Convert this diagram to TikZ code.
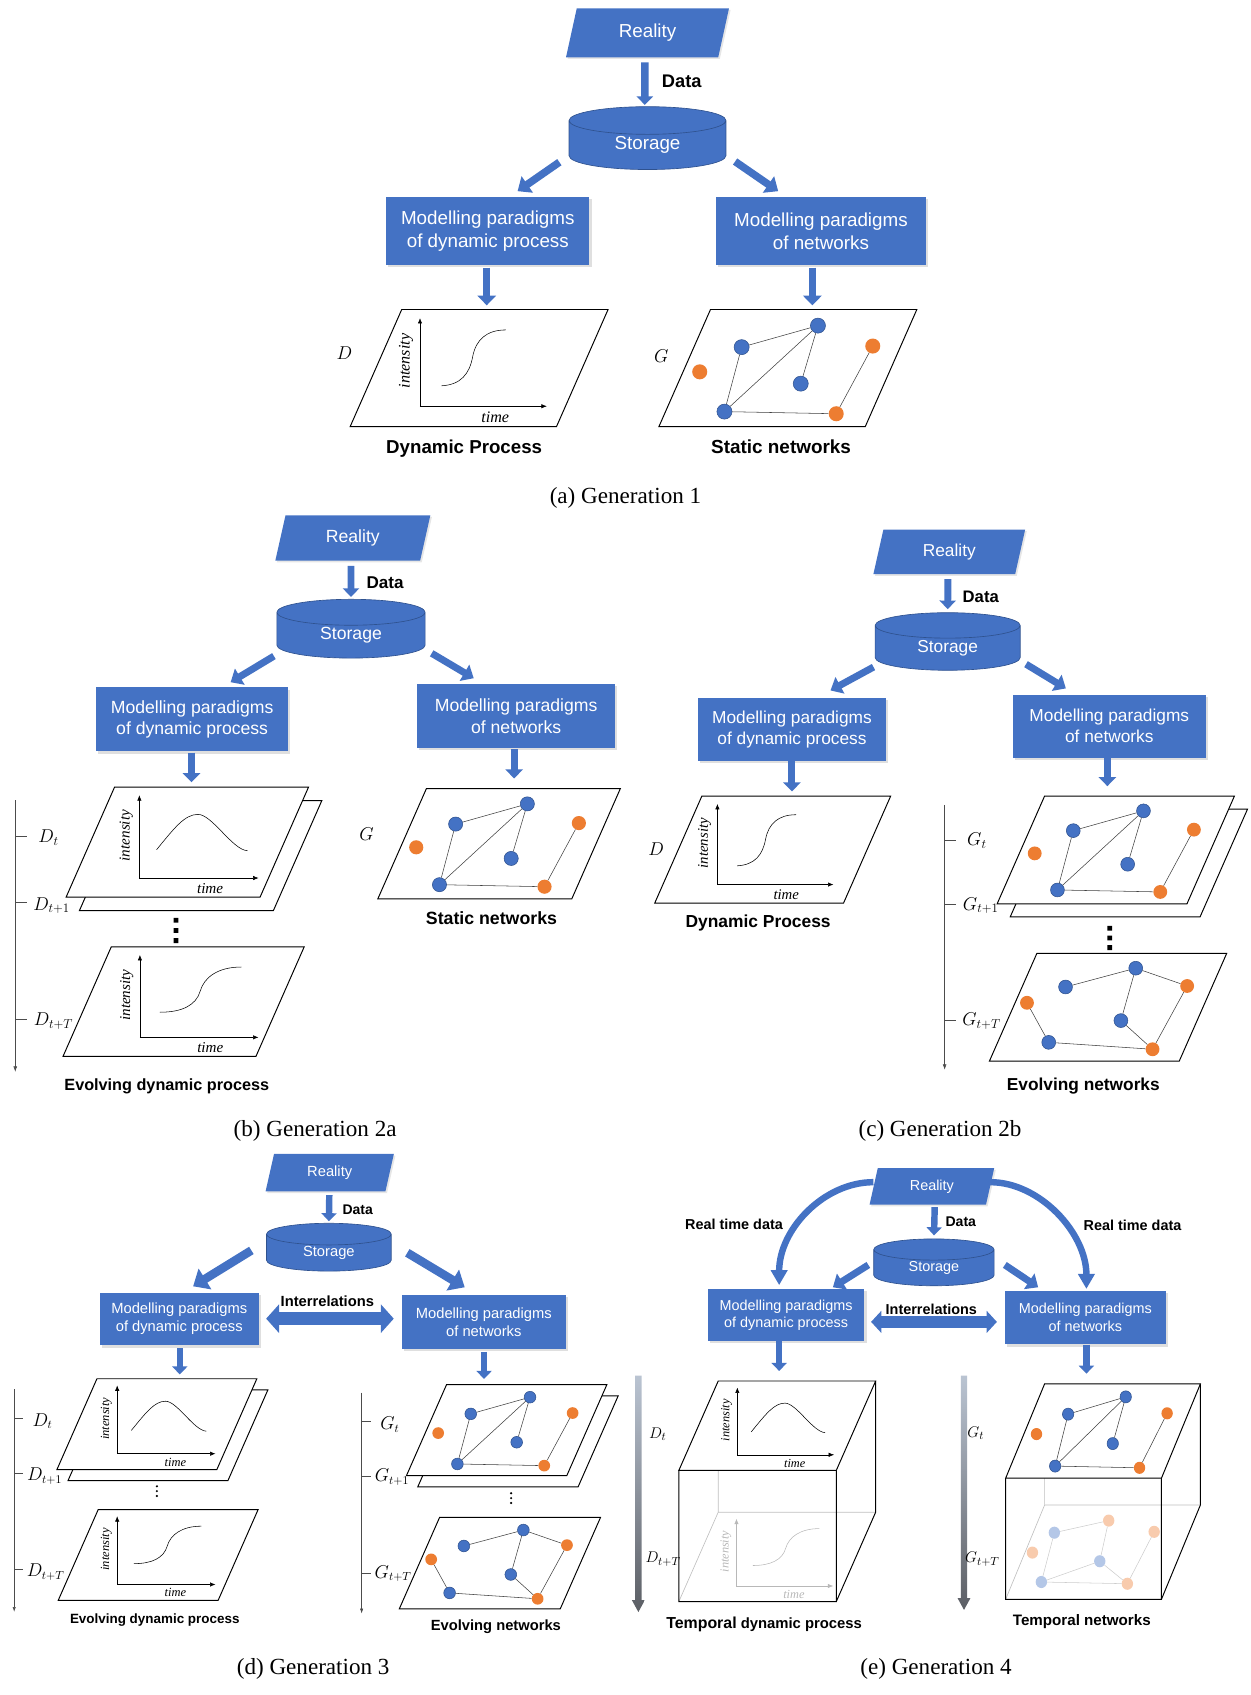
\documentclass[tikz,border=0pt]{standalone}
\usepackage{fontspec}
\setmainfont{Liberation Serif}
\setsansfont{Liberation Sans}
\renewcommand{\familydefault}{\sfdefault}
\usepackage{amssymb,amsmath}
\usetikzlibrary{shapes.geometric,arrows.meta,shadows}

\definecolor{boxblue}{HTML}{4472C4}
\definecolor{edgeblue}{HTML}{2F528F}
\definecolor{netorange}{HTML}{ED7D31}
\definecolor{fadeblue}{HTML}{B4C7E7}
\definecolor{fadeorange}{HTML}{F8CBAD}
\definecolor{axistop}{HTML}{BAC4D2}
\definecolor{axisbottom}{HTML}{5B5E64}

\newcommand{\setfs}[2]{\fontsize{#1}{#2}\selectfont}

% curves drawn on the intensity/time planes
\newcommand{\bellpath}{(39,62) .. controls (57,40) and (67,27) .. (80,27) .. controls (94,27) and (114,62) .. (129,63)}
\newcommand{\sigApath}{(42,71) .. controls (60,70) and (68,60) .. (71,44) .. controls (74,28) and (84,19) .. (102,19)}
\newcommand{\sigBpath}{(42,65) .. controls (64,65) and (78,58) .. (82,44) .. controls (86,30) and (100,20) .. (123,20)}

% a data plane, #1 = top left corner
\newcommand{\dataplane}[3]{%
  \draw[PlaneStyle, shift={#1}, xscale=#2, yscale=#3]
    (0,0) -- (192,0) -- (144,109) -- (-48,109) -- cycle;}

% intensity over time
\newcommand{\procplot}[5]{%
  \begin{scope}[shift={#2}, scale=#3, transform shape, color=#5]
    \draw[AxisStyle] (22,90) -- (22,8);
    \draw[AxisStyle] (22,90) -- (140,90);
    \draw[CurveStyle] #4;
    \node[AxisLabelStyle, rotate=90] (#1-int) at (9,48) {intensity};
    \node[AxisLabelStyle] (#1-time) at (92,100) {time};
  \end{scope}}

% network snapshot at time t
\newcommand{\netfirst}[4]{%
  \begin{scope}[shift={#2}, xscale=#3, yscale=#4, transform shape]
    \node[BlueVertex]   (#1-b1) at (29,35) {};
    \node[BlueVertex]   (#1-b2) at (100,15) {};
    \node[BlueVertex]   (#1-b3) at (84,69) {};
    \node[BlueVertex]   (#1-b4) at (13,95) {};
    \node[OrangeVertex] (#1-o1) at (-10,58) {};
    \node[OrangeVertex] (#1-o2) at (151,34) {};
    \node[OrangeVertex] (#1-o3) at (117,97) {};
    \draw[EdgeStyle] (#1-b1) -- (#1-b2) -- (#1-b4) -- (#1-b1)
      (#1-b2) -- (#1-b3) (#1-b4) -- (#1-o3) -- (#1-o2);
  \end{scope}}

% network snapshot at time t+T
\newcommand{\netlast}[4]{%
  \begin{scope}[shift={#2}, xscale=#3, yscale=#4, transform shape]
    \node[BlueVertex]   (#1-b1) at (29,34) {};
    \node[BlueVertex]   (#1-b2) at (100,15) {};
    \node[BlueVertex]   (#1-b3) at (85,68) {};
    \node[BlueVertex]   (#1-b4) at (12,90) {};
    \node[OrangeVertex] (#1-o1) at (-10,50) {};
    \node[OrangeVertex] (#1-o2) at (152,33) {};
    \node[OrangeVertex] (#1-o3) at (117,97) {};
    \draw[EdgeStyle] (#1-b1) -- (#1-b2) -- (#1-o2) -- (#1-o3) -- (#1-b4) -- (#1-o1)
      (#1-b2) -- (#1-b3) -- (#1-o3);
  \end{scope}}

% faded snapshot at the bottom of a cube
\newcommand{\netfaded}[4]{%
  \begin{scope}[shift={#2}, xscale=#3, yscale=#4, transform shape]
    \node[FadedBlue]   (#1-b1) at (12,32) {};
    \node[FadedBlue]   (#1-b2) at (68,65) {};
    \node[FadedBlue]   (#1-b3) at (-4,89) {};
    \node[FadedOrange] (#1-o1) at (79,18) {};
    \node[FadedOrange] (#1-o2) at (135,31) {};
    \node[FadedOrange] (#1-o3) at (-15,55) {};
    \node[FadedOrange] (#1-o4) at (102,91) {};
    \draw[FadedEdge] (#1-b1) -- (#1-o1) -- (#1-b2) -- (#1-b3) -- (#1-b1)
      (#1-b2) -- (#1-o4) -- (#1-b3) (#1-o4) -- (#1-o2);
  \end{scope}}

% time cube, #4 = depth
\newcommand{\timecube}[4]{%
  \begin{scope}[shift={#1}, xscale=#2, yscale=#3]
    \draw[HiddenEdge] (0,0) -- (0,#4) -- (192,#4) (0,#4) -- (-48,{109+#4});
    \draw[CubeEdge] (-48,109) -- (-48,{109+#4}) -- (144,{109+#4}) -- (144,109)
      (192,0) -- (192,#4) -- (144,{109+#4});
    \draw[PlaneStyle] (0,0) -- (192,0) -- (144,109) -- (-48,109) -- cycle;
  \end{scope}}

\begin{document}
\begin{tikzpicture}[x=1pt,y=-1pt]
  \tikzset{RealityStyle/.style = {
    shape                 = trapezium,
    trapezium left angle  = 76,
    trapezium right angle = 104,
    trapezium stretches   = true,
    fill                  = boxblue,
    text                  = white,
    inner sep             = 0pt,
    drop shadow           = {opacity=0.2, shadow xshift=1.5pt, shadow yshift=-1.5pt}
    }
  }
  \tikzset{StorageStyle/.style = {
    shape               = cylinder,
    shape border rotate = 90,
    aspect              = 0.42,
    anchor              = shape center,
    fill                = boxblue,
    draw                = edgeblue,
    line width          = 0.6pt,
    text                = white,
    inner sep           = 0pt
    }
  }
  \tikzset{BoxStyle/.style = {
    shape       = rectangle,
    fill        = boxblue,
    text        = white,
    align       = center,
    inner sep   = 0pt,
    drop shadow = {opacity=0.25, shadow xshift=2pt, shadow yshift=-2pt}
    }
  }
  \tikzset{BlockArrow/.style n args = {3}{
    draw       = boxblue,
    line width = #1,
    -{Triangle[width=#2, length=#3]}
    }
  }
  \tikzset{BothArrow/.style n args = {3}{
    draw       = boxblue,
    line width = #1,
    {Triangle[width=#2, length=#3]}-{Triangle[width=#2, length=#3]}
    }
  }
  \tikzset{PlaneStyle/.style = {
    draw       = black,
    fill       = white,
    line width = 0.9pt
    }
  }
  \tikzset{CubeEdge/.style   = {draw = black,   line width = 0.9pt}}
  \tikzset{HiddenEdge/.style = {draw = black!25, line width = 0.6pt}}
  \tikzset{AxisStyle/.style = {
    line width = 0.5pt,
    -{Latex[length=5pt, width=4pt]}
    }
  }
  \tikzset{CurveStyle/.style     = {line width = 0.5pt}}
  \tikzset{AxisLabelStyle/.style = {inner sep = 0pt, font = \rmfamily\itshape\setfs{15}{15}}}
  \tikzset{TimeAxis/.style = {
    draw       = black!70,
    line width = 0.5pt
    }
  }
  \tikzset{BlueVertex/.style = {
    shape        = circle,
    fill         = boxblue,
    draw         = edgeblue,
    line width   = 0.5pt,
    inner sep    = 0pt,
    minimum size = 14pt
    }
  }
  \tikzset{OrangeVertex/.style = {
    shape        = circle,
    fill         = netorange,
    inner sep    = 0pt,
    minimum size = 14pt
    }
  }
  \tikzset{FadedBlue/.style   = {OrangeVertex, fill = fadeblue}}
  \tikzset{FadedOrange/.style = {OrangeVertex, fill = fadeorange}}
  \tikzset{EdgeStyle/.style   = {draw = black!75, line width = 0.5pt}}
  \tikzset{FadedEdge/.style   = {draw = black!20, line width = 0.5pt}}
  \tikzset{LabelStyle/.style  = {inner sep = 0pt, text = black}}
  \tikzset{CaptionStyle/.style = {inner sep = 0pt, font = \rmfamily\setfs{21.5}{24}}}

  \useasboundingbox (0,0) rectangle (1164,1577.2);

  % (a) Generation 1
  \node[RealityStyle, minimum width=152, minimum height=45.6, font=\setfs{17.5}{21}] (aR) at (602.5,30.5) {Reality};
  \node[StorageStyle, minimum width=146, minimum height=58.5, font=\setfs{17.5}{21}] (aS) at (602.5,128.5) {Storage};
  \node[BoxStyle, minimum width=189, minimum height=63, font=\setfs{17.5}{21.5}] (aL) at (453.9,214.9) {Modelling paradigms\\of dynamic process};
  \node[BoxStyle, minimum width=195.5, minimum height=63, font=\setfs{17.5}{21.5}] (aN) at (763.9,214.9) {Modelling paradigms\\of networks};
  \node[LabelStyle, font=\bfseries\setfs{17}{20}] (aData) at (634.4,75.5) {Data};
  \draw[BlockArrow={7pt}{15pt}{8pt}, shorten <=4.6pt, shorten >=1.3pt] ([shift={(-2.5,0)}]aR.south) -- ([shift={(-2.5,0)}]aS.north);
  \draw[BlockArrow={7pt}{18pt}{11pt}] ([shift={(-82,22.4)}]aS.shape center) -- ([shift={(27.7,-5.3)}]aL.north);
  \draw[BlockArrow={7pt}{18pt}{11pt}] ([shift={(81.5,21.8)}]aS.shape center) -- ([shift={(-39.8,-5.3)}]aN.north);
  \draw[BlockArrow={7pt}{17pt}{9pt}] ([shift={(-1,2.5)}]aL.south) -- ++(0,35);
  \draw[BlockArrow={7pt}{17pt}{9pt}] ([shift={(-8,2.5)}]aN.south) -- ++(0,35);
  \dataplane{(373.8,288)}{1}{1}
  \procplot{aP}{(368.8,288)}{1}{\sigApath}{black}
  \dataplane{(661.1,288)}{1}{1}
  \netfirst{aG}{(661.1,288)}{1}{1}
  \node[LabelStyle, font=\setfs{19}{19}] (aDl) at (320.4,329) {$D$};
  \node[LabelStyle, font=\setfs{19}{19}] (aGl) at (615.3,331.1) {$G$};
  \node[LabelStyle, font=\bfseries\setfs{17.4}{20}] (aPl) at (431.9,417.3) {Dynamic Process};
  \node[LabelStyle, font=\bfseries\setfs{17.6}{20}] (aNl) at (726.8,415.8) {Static networks};
  \node[CaptionStyle] (capA) at (582,463) {(a) Generation 1};

  % (b) Generation 2a
  \node[RealityStyle, minimum width=144.5, minimum height=42.3, font=\setfs{16.4}{20}] (bR) at (328.3,500.6) {Reality};
  \node[StorageStyle, minimum width=138, minimum height=54.7, font=\setfs{16.4}{20}] (bS) at (326.6,585) {Storage};
  \node[BoxStyle, minimum width=179, minimum height=59.6, font=\setfs{16.4}{20}] (bL) at (178.8,669.4) {Modelling paradigms\\of dynamic process};
  \node[BoxStyle, minimum width=184, minimum height=60, font=\setfs{16.4}{20}] (bN) at (480.3,666.2) {Modelling paradigms\\of networks};
  \node[LabelStyle, font=\bfseries\setfs{15.9}{19}] (bData) at (358.4,542.6) {Data};
  \draw[BlockArrow={6.5pt}{15pt}{8pt}, shorten >=1.9pt] ([shift={(-1.7,4.5)}]bR.south) -- (bS.north);
  \draw[BlockArrow={6.5pt}{17pt}{10pt}] ([shift={(-71.7,25.5)}]bS.shape center) -- ([shift={(35.8,-4.6)}]bL.north);
  \draw[BlockArrow={6.5pt}{17pt}{10pt}] ([shift={(75.1,22.9)}]bS.shape center) -- ([shift={(-39.5,-4.9)}]bN.north);
  \draw[BlockArrow={6.5pt}{16pt}{8.5pt}] ([shift={(-0.6,1)}]bL.south) -- ++(0,27.5);
  \draw[BlockArrow={6.5pt}{16pt}{8.5pt}] ([shift={(-1.9,1)}]bN.south) -- ++(0,27);
  \dataplane{(119,744.9)}{0.94}{0.94}
  \dataplane{(106.6,732.4)}{0.94}{0.94}
  \procplot{bP1}{(109,732.4)}{0.94}{\bellpath}{black}
  \dataplane{(103.5,881.1)}{0.935}{0.935}
  \procplot{bP2}{(109.6,881.1)}{0.935}{\sigBpath}{black}
  \dataplane{(396.7,733.9)}{0.94}{0.94}
  \netfirst{bG}{(396.7,733.9)}{0.94}{0.94}
  \draw[TimeAxis, -{Latex[length=5pt, width=3.5pt]}] (14.2,744.5) -- (14.2,997.3);
  \draw[TimeAxis] (14.2,777.7) -- ++(10.5,0) (14.2,840) -- ++(10.5,0) (14.2,948.3) -- ++(10.5,0);
  \fill (161.5,854) rectangle ++(4.5,4.5) (161.5,863.5) rectangle ++(4.5,4.5) (161.5,873) rectangle ++(4.5,4.5);
  \node[LabelStyle, font=\setfs{18}{18}] (bD1) at (45.2,779.6) {$D_t$};
  \node[LabelStyle, font=\setfs{18}{18}] (bD2) at (48,842.6) {$D_{t+1}$};
  \node[LabelStyle, font=\setfs{18}{18}] (bD3) at (49.8,950.2) {$D_{t+T}$};
  \node[LabelStyle, font=\setfs{18}{18}] (bGl) at (341.1,775.8) {$G$};
  \node[LabelStyle, font=\bfseries\setfs{15.1}{18}] (bPl) at (155.2,1010.6) {Evolving dynamic process};
  \node[LabelStyle, font=\bfseries\setfs{16.5}{19}] (bNl) at (457.3,853.9) {Static networks};
  \node[CaptionStyle] (capB) at (293.2,1052) {(b) Generation 2a};

  % (c) Generation 2b
  \node[RealityStyle, minimum width=141.6, minimum height=41.5, font=\setfs{16.1}{19}] (cR) at (883.3,513.5) {Reality};
  \node[StorageStyle, minimum width=135, minimum height=53.6, font=\setfs{16.1}{19}] (cS) at (881.8,596.9) {Storage};
  \node[BoxStyle, minimum width=174.8, minimum height=58.5, font=\setfs{16.1}{19.6}] (cL) at (736.9,678.7) {Modelling paradigms\\of dynamic process};
  \node[BoxStyle, minimum width=180, minimum height=58.5, font=\setfs{16.1}{19.6}] (cN) at (1032.2,675.7) {Modelling paradigms\\of networks};
  \node[LabelStyle, font=\bfseries\setfs{15.5}{19}] (cData) at (912.6,555) {Data};
  \draw[BlockArrow={6.5pt}{15pt}{8pt}, shorten >=3pt] ([shift={(-1.3,4.5)}]cR.south) -- (cS.north);
  \draw[BlockArrow={6.5pt}{17pt}{10pt}] ([shift={(-69,23.8)}]cS.shape center) -- ([shift={(35.9,-6.8)}]cL.north);
  \draw[BlockArrow={6.5pt}{17pt}{10pt}] ([shift={(72.9,21.1)}]cS.shape center) -- ([shift={(-40.4,-5.7)}]cN.north);
  \draw[BlockArrow={6.5pt}{16pt}{8.5pt}] (cL.south) -- ++(0,28.3);
  \draw[BlockArrow={6.5pt}{16pt}{8.5pt}] ([shift={(-1.8,0)}]cN.south) -- ++(0,26.4);
  \dataplane{(653.1,740.7)}{0.915}{0.915}
  \procplot{cP}{(647.4,740.7)}{0.915}{\sigApath}{black}
  \dataplane{(984.2,752.8)}{0.92}{0.92}
  \dataplane{(972,740.7)}{0.92}{0.92}
  \netfirst{cG1}{(972,740.7)}{0.92}{0.92}
  \dataplane{(964.8,887.1)}{0.92}{0.92}
  \netlast{cG2}{(964.8,887.1)}{0.92}{0.92}
  \draw[TimeAxis, -{Latex[length=5pt, width=3.5pt]}] (879,749) -- (879,995.4);
  \draw[TimeAxis] (879,782.2) -- ++(10.5,0) (879,841.8) -- ++(10.5,0) (879,949) -- ++(10.5,0);
  \fill (1030.3,861.5) rectangle ++(4.5,4.5) (1030.3,870.5) rectangle ++(4.5,4.5) (1030.3,879.5) rectangle ++(4.5,4.5);
  \node[LabelStyle, font=\setfs{18}{18}] (cDl) at (610.6,790.5) {$D$};
  \node[LabelStyle, font=\setfs{18}{18}] (cG1l) at (909,782.2) {$G_t$};
  \node[LabelStyle, font=\setfs{18}{18}] (cG2l) at (912.6,842.6) {$G_{t+1}$};
  \node[LabelStyle, font=\setfs{18}{18}] (cG3l) at (913.3,950.2) {$G_{t+T}$};
  \node[LabelStyle, font=\bfseries\setfs{16.2}{19}] (cPl) at (705.4,858.8) {Dynamic Process};
  \node[LabelStyle, font=\bfseries\setfs{16.1}{19}] (cNl) at (1008,1010.6) {Evolving networks};
  \node[CaptionStyle] (capC) at (874.7,1052) {(c) Generation 2b};

  % (d) Generation 3
  \node[RealityStyle, minimum width=119.6, minimum height=34.9, font=\setfs{13.7}{16}] (dR) at (306.8,1091.2) {Reality};
  \node[StorageStyle, minimum width=116, minimum height=44.5, font=\setfs{13.7}{16}] (dS) at (306,1160.5) {Storage};
  \node[BoxStyle, minimum width=147.7, minimum height=49, font=\setfs{13.7}{16.8}] (dL) at (166.8,1227.4) {Modelling paradigms\\of dynamic process};
  \node[BoxStyle, minimum width=152.4, minimum height=50, font=\setfs{13.7}{16.8}] (dN) at (450.2,1230) {Modelling paradigms\\of networks};
  \node[LabelStyle, font=\bfseries\setfs{13}{16}] (dData) at (332.8,1125.4) {Data};
  \node[LabelStyle, font=\bfseries\setfs{13.7}{16}] (dInter) at (304.6,1210.9) {Interrelations};
  \draw[BlockArrow={6pt}{14pt}{7.5pt}, shorten >=1.6pt] ([shift={(-0.4,3.2)}]dR.south) -- (dS.north);
  \draw[BlockArrow={8pt}{22pt}{13pt}] ([shift={(-72.1,3)}]dS.shape center) -- ([shift={(12.9,-5.8)}]dL.north);
  \draw[BlockArrow={8pt}{22pt}{13pt}] ([shift={(73,5.2)}]dS.shape center) -- ([shift={(-17.8,-7)}]dN.north);
  \draw[BothArrow={12pt}{26pt}{12pt}] ([shift={(6.8,-0.4)}]dL.east) -- ([shift={(-7.4,-3)}]dN.west);
  \draw[BlockArrow={6pt}{14pt}{7.5pt}] ([shift={(0.5,2.6)}]dL.south) -- ++(0,24.2);
  \draw[BlockArrow={6pt}{14pt}{7.5pt}] ([shift={(0.2,2.7)}]dN.south) -- ++(0,25.2);
  \dataplane{(100.5,1293.2)}{0.775}{0.775}
  \dataplane{(90.2,1282.9)}{0.775}{0.775}
  \procplot{dP1}{(92,1282.9)}{0.775}{\bellpath}{black}
  \dataplane{(91.4,1404.6)}{0.775}{0.775}
  \procplot{dP2}{(92,1404.6)}{0.775}{\sigBpath}{black}
  \dataplane{(426,1298.9)}{0.777}{0.777}
  \dataplane{(415.5,1288.4)}{0.777}{0.777}
  \netfirst{dG1}{(415.5,1288.4)}{0.777}{0.777}
  \dataplane{(409,1412)}{0.78}{0.78}
  \netlast{dG2}{(409,1412)}{0.78}{0.78}
  \draw[TimeAxis, -{Latex[length=4.5pt, width=3pt]}] (13.2,1292.6) -- (13.2,1499.8);
  \draw[TimeAxis] (13.2,1320) -- ++(8.5,0) (13.2,1370.7) -- ++(8.5,0) (13.2,1460.4) -- ++(8.5,0);
  \draw[TimeAxis, -{Latex[length=4.5pt, width=3pt]}] (336.5,1295.8) -- (336.5,1501.4);
  \draw[TimeAxis] (336.5,1322.9) -- ++(8.5,0) (336.5,1373.3) -- ++(8.5,0) (336.5,1464.3) -- ++(8.5,0);
  \fill (146,1383) circle (1.1) (146,1387.5) circle (1.1) (146,1392) circle (1.1);
  \fill (475.6,1389.5) circle (1.1) (475.6,1394) circle (1.1) (475.6,1398.5) circle (1.1);
  \node[LabelStyle, font=\setfs{16}{16}] (dD1) at (39.5,1322.3) {$D_t$};
  \node[LabelStyle, font=\setfs{16}{16}] (dD2) at (41.4,1373.3) {$D_{t+1}$};
  \node[LabelStyle, font=\setfs{16}{16}] (dD3) at (42.5,1462.7) {$D_{t+T}$};
  \node[LabelStyle, font=\setfs{16}{16}] (dG1l) at (362.8,1325.5) {$G_t$};
  \node[LabelStyle, font=\setfs{16}{16}] (dG2l) at (364.7,1374.6) {$G_{t+1}$};
  \node[LabelStyle, font=\setfs{16}{16}] (dG3l) at (365.8,1464.3) {$G_{t+T}$};
  \node[LabelStyle, font=\bfseries\setfs{12.5}{15}] (dPl) at (144,1507.9) {Evolving dynamic process};
  \node[LabelStyle, font=\bfseries\setfs{13.7}{16}] (dNl) at (461.4,1513.4) {Evolving networks};
  \node[CaptionStyle] (capD) at (291.4,1553) {(d) Generation 3};

  % (e) Generation 4
  \node[RealityStyle, minimum width=116.5, minimum height=34, font=\setfs{13.4}{16}] (eR) at (867.1,1104) {Reality};
  \node[StorageStyle, minimum width=112, minimum height=43.6, font=\setfs{13.4}{16}] (eS) at (869,1174.6) {Storage};
  \node[BoxStyle, minimum width=145.7, minimum height=48.4, font=\setfs{13.4}{16.4}] (eL) at (731.5,1223.8) {Modelling paradigms\\of dynamic process};
  \node[BoxStyle, minimum width=150.2, minimum height=50, font=\setfs{13.4}{16.4}] (eN) at (1009.9,1226) {Modelling paradigms\\of networks};
  \node[LabelStyle, font=\bfseries\setfs{13.1}{16}] (eData) at (894,1136.7) {Data};
  \node[LabelStyle, font=\bfseries\setfs{13.4}{16}] (eInter) at (866.6,1218) {Interrelations};
  \node[LabelStyle, font=\bfseries\setfs{13.4}{16}] (eRealL) at (683,1139) {Real time data};
  \node[LabelStyle, font=\bfseries\setfs{13.4}{16}] (eRealR) at (1053.8,1139.9) {Real time data};
  \draw[BlockArrow={6pt}{14pt}{7.5pt}, shorten <=2pt, shorten >=3pt] ([shift={(2.7,0)}]eR.south) -- (eS.north);
  \draw[BlockArrow={6.5pt}{17pt}{10pt}] ([shift={(-61,2.4)}]eS.shape center) -- ([shift={(43.5,-1.6)}]eL.north);
  \draw[BlockArrow={6.5pt}{17pt}{10pt}] ([shift={(66,2.4)}]eS.shape center) -- ([shift={(-43.9,-3)}]eN.north);
  \draw[BothArrow={10.5pt}{20pt}{9.5pt}] ([shift={(6,6.2)}]eL.east) -- ([shift={(-7,4)}]eN.west);
  \draw[BlockArrow={6pt}{15pt}{14pt}] ([shift={(0,-4)}]eR.west) .. controls +(-46,0) and +(0,-52) .. ([shift={(-6.5,-3.6)}]eL.north);
  \draw[BlockArrow={6pt}{15pt}{14pt}] ([shift={(0,-4)}]eR.east) .. controls +(46,0) and +(0,-52) .. ([shift={(1,-1.5)}]eN.north);
  \draw[BlockArrow={6pt}{14pt}{7.5pt}] ([shift={(-6.5,0)}]eL.south) -- ++(0,27.5);
  \draw[BlockArrow={6pt}{14pt}{7.5pt}] ([shift={(1,0)}]eN.south) -- ++(0,27);
  \shade[top color=axistop, bottom color=axisbottom]
    (591,1280) -- (597,1280) -- (597,1489) -- (600,1489) -- (594,1500) -- (588,1489) -- (591,1489) -- cycle;
  \shade[top color=axistop, bottom color=axisbottom]
    (894,1280) -- (900,1280) -- (900,1487) -- (903,1487) -- (897,1498) -- (891,1487) -- (894,1487) -- cycle;
  \timecube{(668.3,1285)}{0.763}{0.763}{160}
  \procplot{eP1}{(669.3,1285)}{0.763}{\bellpath}{black}
  \procplot{eP2}{(668.5,1407.1)}{0.763}{\sigBpath}{black!28}
  \timecube{(972,1287.7)}{0.755}{0.805}{140}
  \netfirst{eG1}{(972,1287.7)}{0.755}{0.805}
  \netfaded{eG2}{(972,1400.4)}{0.755}{0.805}
  \node[LabelStyle, font=\setfs{15}{15}] (eD1) at (612,1334.5) {$D_t$};
  \node[LabelStyle, font=\setfs{15}{15}] (eD2) at (617,1451) {$D_{t+T}$};
  \node[LabelStyle, font=\setfs{15}{15}] (eG1l) at (908,1333.6) {$G_t$};
  \node[LabelStyle, font=\setfs{15}{15}] (eG2l) at (914,1451) {$G_{t+T}$};
  \node[LabelStyle, font=\bfseries\setfs{13.8}{16}] (ePl) at (711,1511.7) {{\setfs{14.8}{16}Temporal} dynamic process};
  \node[LabelStyle, font=\bfseries\setfs{14.1}{16}] (eNl) at (1006.6,1508.5) {Temporal networks};
  \node[CaptionStyle] (capE) at (871,1553) {(e) Generation 4};
\end{tikzpicture}
\end{document}
